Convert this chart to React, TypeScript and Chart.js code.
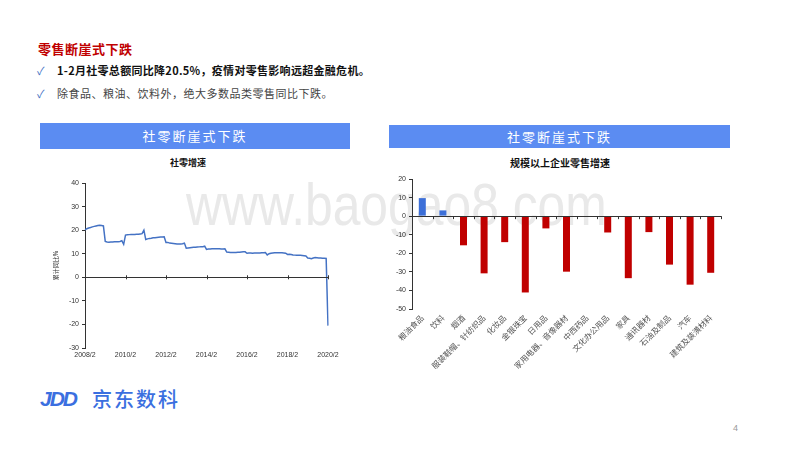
import React, { useEffect, useRef } from "react";
import { Chart, registerables } from "chart.js";

Chart.register(...registerables);

// ---- Left chart: 社零增速 (累计同比, %) ----
const RETAIL_YEARS = [2008, 2009, 2010, 2011, 2012, 2013, 2014, 2015, 2016, 2017, 2018, 2019];
const RETAIL_MONTHS = [2, 3, 4, 5, 6, 7, 8, 9, 10, 11, 12];
const RETAIL_2008 = [20.1, 20.6, 20.9, 21.1, 21.4, 21.6, 21.8, 22.0, 22.1, 22.0, 21.8];
const RETAIL_2009 = [15.2, 15.0, 14.9, 15.0, 15.0, 15.1, 15.1, 15.1, 15.2, 15.5, 14.0];
const RETAIL_2010 = [17.9, 18.0, 18.1, 18.2, 18.2, 18.2, 18.3, 18.3, 18.4, 18.5, 20.0];
const RETAIL_2011 = [16.0, 16.3, 16.5, 16.6, 16.8, 16.8, 16.9, 17.0, 17.1, 17.1, 17.2];
const RETAIL_2012 = [14.8, 14.8, 14.5, 14.4, 14.3, 14.2, 14.1, 14.1, 14.1, 14.2, 14.5];
const RETAIL_2013 = [12.3, 12.4, 12.5, 12.6, 12.7, 12.7, 12.8, 12.9, 13.0, 13.0, 13.2];
const RETAIL_2014 = [11.8, 12.0, 12.0, 12.1, 12.1, 12.1, 12.1, 12.1, 12.0, 12.0, 12.1];
const RETAIL_2015 = [10.7, 10.6, 10.5, 10.5, 10.5, 10.5, 10.6, 10.6, 10.7, 10.8, 10.8];
const RETAIL_2016 = [10.2, 10.3, 10.3, 10.2, 10.3, 10.3, 10.3, 10.3, 10.4, 10.4, 10.5];
const RETAIL_2017 = [9.5, 10.0, 10.2, 10.3, 10.4, 10.4, 10.4, 10.4, 10.4, 10.3, 10.2];
const RETAIL_2018 = [9.7, 9.8, 9.7, 9.5, 9.4, 9.3, 9.3, 9.3, 9.2, 9.1, 9.0];
const RETAIL_2019 = [8.2, 8.1, 7.9, 8.2, 8.4, 8.3, 8.2, 8.2, 8.1, 8.1, 8.0];
const RETAIL_2020 = [-20.5];
const RETAIL_TICK_LABELS = ["2008/2", "2010/2", "2012/2", "2014/2", "2016/2", "2018/2", "2020/2"];

// ---- Right chart: 规模以上企业零售增速 ----
const CATEGORIES = [
  "粮油食品", "饮料", "烟酒", "服装鞋帽、针纺织品", "化妆品", "金银珠宝", "日用品",
  "家用电器、音像器材", "中西药品", "文化办公用品", "家具", "通讯器材", "石油及制品", "汽车", "建筑及装潢材料",
];
const CATEGORY_GROWTH = [9.7, 3.1, -15.7, -30.8, -14.0, -41.1, -6.6, -29.9, 0, -8.8, -33.4, -8.6, -26.1, -36.9, -30.5];

const FONT = "'Liberation Sans', 'Noto Sans CJK SC', sans-serif";
const CJK = "'Noto Sans CJK SC', sans-serif";

function zeroLinePlugin(id: string, mode: "labels" | "bounds") {
  return {
    id,
    afterDatasetsDraw(chart: any) {
      const { ctx, chartArea, scales } = chart;
      const y0 = scales.y.getPixelForValue(0);
      ctx.save();
      ctx.strokeStyle = "#333";
      ctx.lineWidth = 1;
      ctx.beginPath();
      ctx.moveTo(chartArea.left, Math.round(y0) + 0.5);
      ctx.lineTo(chartArea.right, Math.round(y0) + 0.5);
      if (mode === "bounds") {
        const n = chart.data.labels.length;
        const w = (chartArea.right - chartArea.left) / n;
        for (let i = 1; i <= n; i++) {
          const x = Math.round(chartArea.left + i * w) + 0.5;
          ctx.moveTo(x, y0);
          ctx.lineTo(x, y0 + 3);
        }
      } else {
        const xs = scales.x;
        const n = chart.data.labels.length;
        for (let i = 0; i < n; i += 22) {
          const x = Math.round(xs.getPixelForValue(i)) + 0.5;
          ctx.moveTo(x, y0 - 2);
          ctx.lineTo(x, y0 + 2);
        }
      }
      ctx.stroke();
      ctx.restore();
    },
  };
}

function LineChart() {
  const ref = useRef<HTMLCanvasElement>(null);
  useEffect(() => {
    const labels: string[] = [];
    RETAIL_YEARS.forEach((y) => RETAIL_MONTHS.forEach((m) => labels.push(`${y}/${m}`)));
    labels.push("2020/2");
    const values = [
      ...RETAIL_2008, ...RETAIL_2009, ...RETAIL_2010, ...RETAIL_2011, ...RETAIL_2012, ...RETAIL_2013,
      ...RETAIL_2014, ...RETAIL_2015, ...RETAIL_2016, ...RETAIL_2017, ...RETAIL_2018, ...RETAIL_2019, ...RETAIL_2020,
    ];
    const chart = new Chart(ref.current!, {
      type: "line",
      data: {
        labels,
        datasets: [{ data: values, borderColor: "#4472c4", borderWidth: 1.5, pointRadius: 0, tension: 0, fill: false }],
      },
      options: {
        animation: false,
        responsive: false,
        layout: { padding: { top: 15, right: 44, left: 0, bottom: 0 } },
        plugins: { legend: { display: false }, tooltip: { enabled: false } },
        scales: {
          x: {
            type: "category",
            offset: false,
            grid: { display: false, drawTicks: false },
            border: { display: false },
            ticks: {
              autoSkip: false,
              maxRotation: 0,
              minRotation: 0,
              color: "#333",
              font: { size: 7, family: FONT },
              padding: 3,
              callback: (_v: any, i: number) => (i % 22 === 0 ? RETAIL_TICK_LABELS[i / 22] : ""),
            },
            afterFit: (s: any) => { s.height = 20; },
          },
          y: {
            min: -30,
            max: 40,
            ticks: { stepSize: 10, color: "#333", font: { size: 7, family: FONT }, padding: 3 },
            grid: { drawOnChartArea: false, drawTicks: true, tickLength: 3, color: "#333" },
            border: { display: true, color: "#333", width: 1 },
            title: { display: true, text: "累计同比%", color: "#333", font: { size: 6, family: CJK }, padding: 0 },
            afterFit: (s: any) => { s.width = 33; },
          },
        },
      },
      plugins: [zeroLinePlugin("zeroL", "labels")],
    } as any);
    return () => chart.destroy();
  }, []);
  return <canvas ref={ref} width={320} height={200} style={{ position: "absolute", left: 52, top: 168, width: 320, height: 200 }} />;
}

function BarChart() {
  const ref = useRef<HTMLCanvasElement>(null);
  useEffect(() => {
    const chart = new Chart(ref.current!, {
      type: "bar",
      data: {
        labels: CATEGORIES,
        datasets: [{
          data: CATEGORY_GROWTH,
          backgroundColor: CATEGORY_GROWTH.map((v) => (v >= 0 ? "#3c6fd8" : "#c00000")),
          barPercentage: 0.34,
          categoryPercentage: 1,
        }],
      },
      options: {
        animation: false,
        responsive: false,
        layout: { padding: { top: 11, right: 10, left: 0, bottom: 0 } },
        plugins: { legend: { display: false }, tooltip: { enabled: false } },
        scales: {
          x: {
            grid: { display: false, drawTicks: false },
            border: { display: false },
            ticks: {
              autoSkip: false,
              maxRotation: 45,
              minRotation: 45,
              color: "#555",
              font: { size: 8, family: CJK },
              padding: 4,
            },
            afterFit: (s: any) => { s.height = 60; },
          },
          y: {
            min: -50,
            max: 20,
            ticks: { stepSize: 10, color: "#333", font: { size: 7, family: FONT }, padding: 3 },
            grid: { drawOnChartArea: false, drawTicks: true, tickLength: 3, color: "#333" },
            border: { display: true, color: "#333", width: 1 },
            afterFit: (s: any) => { s.width = 27; },
          },
        },
      },
      plugins: [zeroLinePlugin("zeroR", "bounds")],
    } as any);
    return () => chart.destroy();
  }, []);
  return <canvas ref={ref} width={346} height={201} style={{ position: "absolute", left: 385, top: 168, width: 346, height: 201 }} />;
}

const abs = (s: React.CSSProperties): React.CSSProperties => ({ position: "absolute", ...s });

export default function App() {
  return (
    <div style={abs({ left: 0, top: 0, width: 800, height: 450, background: "#fff", overflow: "hidden", fontFamily: CJK })}>
      <div style={abs({ left: 186, top: 172, fontSize: 60, color: "#e9e9e9", fontFamily: "'Liberation Sans', sans-serif", lineHeight: "66px", transform: "scaleX(0.83)", transformOrigin: "left top", whiteSpace: "nowrap", pointerEvents: "none" })}>www.baogao8.com</div>

      <div style={abs({ left: 38, top: 40, fontSize: 13, fontWeight: 700, color: "#c00000", letterSpacing: 0.5, lineHeight: "18px" })}>零售断崖式下跌</div>
      <div style={abs({ left: 37, top: 62, fontSize: 11, color: "#4472c4", lineHeight: "16px" })}>✓</div>
      <div style={abs({ left: 57, top: 62, fontSize: 11, fontWeight: 700, color: "#111", lineHeight: "16px", letterSpacing: 0.3 })}>1-2月社零总额同比降20.5%，疫情对零售影响远超金融危机。</div>
      <div style={abs({ left: 37, top: 85, fontSize: 11, color: "#4472c4", lineHeight: "16px" })}>✓</div>
      <div style={abs({ left: 57, top: 85, fontSize: 11, color: "#444", lineHeight: "16px", letterSpacing: 0.5 })}>除食品、粮油、饮料外，绝大多数品类零售同比下跌。</div>

      <div style={abs({ left: 40, top: 123, width: 310, height: 26, background: "#5b8cf2", color: "#fff", fontSize: 13, lineHeight: "26px", textAlign: "center", letterSpacing: 2 })}>社零断崖式下跌</div>
      <div style={abs({ left: 389, top: 125, width: 341, height: 23, background: "#5b8cf2", color: "#fff", fontSize: 13, lineHeight: "23px", textAlign: "center", letterSpacing: 2 })}>社零断崖式下跌</div>

      <div style={abs({ left: 138, top: 156, width: 100, textAlign: "center", fontSize: 9, fontWeight: 700, color: "#111", lineHeight: "14px" })}>社零增速</div>
      <div style={abs({ left: 480, top: 156, width: 160, textAlign: "center", fontSize: 10, fontWeight: 700, color: "#111", lineHeight: "14px" })}>规模以上企业零售增速</div>

      <LineChart />
      <BarChart />

      <div style={abs({ left: 40, top: 387, fontSize: 21, fontWeight: 900, fontStyle: "italic", color: "#3b6fe0", fontFamily: "'Liberation Sans', sans-serif", lineHeight: "24px", letterSpacing: -2 })}>JDD</div>
      <div style={abs({ left: 92, top: 386, fontSize: 20, fontWeight: 500, color: "#3b6fe0", lineHeight: "26px", letterSpacing: 2 })}>京东数科</div>
      <div style={abs({ left: 733, top: 423, fontSize: 9, color: "#999", fontFamily: FONT })}>4</div>
    </div>
  );
}
